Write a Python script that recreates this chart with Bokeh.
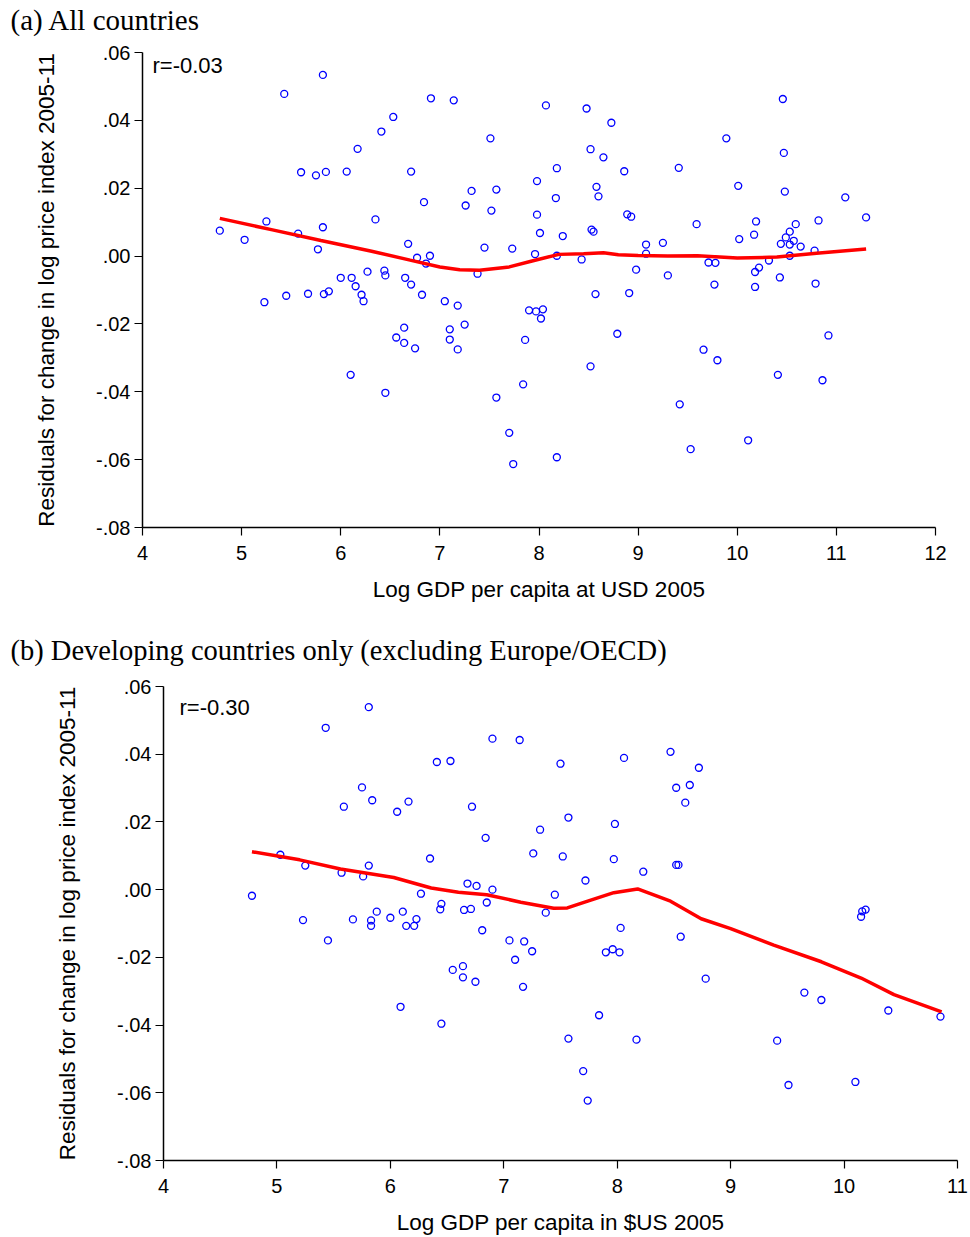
from bokeh.plotting import figure
from bokeh.layouts import column, row
from bokeh.models import FixedTicker, Label
from bokeh.embed import file_html
from bokeh.resources import INLINE

# ---------------- Panel (a): all countries ----------------
a_gdp = [4.78, 5.03, 5.25, 5.57, 5.82, 5.77, 6.35, 6.68, 5.82, 5.43, 6.53, 6.41, 6.17, 5.60,
         5.75, 5.85, 6.06, 6.71, 6.00, 6.11, 6.15, 6.27, 6.44, 6.45, 6.65, 6.71, 5.23, 5.45,
         5.67, 5.83, 5.88, 6.21, 6.23, 6.64, 6.56, 6.64, 6.10, 6.45, 6.77, 6.90, 6.86, 6.82,
         7.05, 7.18, 7.38, 7.25, 7.10, 6.75, 7.10, 7.18, 7.90, 7.97, 8.04, 8.02, 7.86, 7.84,
         7.57, 7.70, 7.74, 8.18, 8.43, 8.57, 8.79, 8.52, 8.91, 8.98, 9.30, 6.91, 7.14, 8.07,
         8.48, 8.73, 7.51, 8.52, 8.65, 8.18, 8.86, 7.98, 8.58, 7.32, 7.57, 6.84, 8.60, 8.17,
         7.26, 7.52, 7.98, 8.89, 8.93, 8.53, 8.55, 8.01, 8.24, 7.45, 7.73, 7.96, 8.18, 9.08,
         9.08, 9.25, 10.46, 9.89, 10.47, 9.41, 10.01, 10.48, 11.09, 11.30, 9.59, 10.19, 10.59,
         10.82, 10.53, 10.49, 10.57, 10.44, 10.53, 10.64, 10.17, 10.02, 10.78, 10.53, 10.32,
         9.71, 9.78, 10.22, 10.18, 9.77, 10.18, 10.43, 10.79, 10.92, 9.66, 9.80, 10.41, 10.86,
         9.42, 10.11, 9.53]
a_resid = [0.0075, 0.0048, 0.0102, 0.0066, 0.0085, 0.0020, 0.0108, 0.0036, 0.0534, 0.0478,
           0.0410, 0.0367, 0.0316, 0.0247, 0.0238, 0.0248, 0.0249, 0.0249, -0.0064, -0.0064,
           -0.0089, -0.0046, -0.0043, -0.0057, -0.0064, -0.0084, -0.0136, -0.0117, -0.0111,
           -0.0112, -0.0104, -0.0114, -0.0133, -0.0211, -0.0240, -0.0256, -0.0350, -0.0403,
           -0.0005, 0.0001, -0.0022, -0.0114, -0.0133, -0.0146, -0.0052, -0.0202, -0.0216,
           -0.0272, -0.0246, -0.0275, -0.0160, -0.0163, -0.0157, -0.0184, -0.0247, -0.0378,
           -0.0417, -0.0521, -0.0613, -0.0593, -0.0010, -0.0112, -0.0229, -0.0325, -0.0109,
           -0.0040, -0.0057, 0.0465, 0.0459, 0.0444, 0.0435, 0.0393, 0.0347, 0.0315, 0.0291,
           0.0259, 0.0250, 0.0221, 0.0204, 0.0192, 0.0196, 0.0159, 0.0176, 0.0171, 0.0149,
           0.0134, 0.0122, 0.0123, 0.0116, 0.0078, 0.0072, 0.0068, 0.0059, 0.0025, 0.0022,
           0.0006, 0.0001, 0.0034, 0.0007, 0.0039, 0.0463, 0.0347, 0.0304, 0.0260, 0.0207,
           0.0190, 0.0173, 0.0114, 0.0094, 0.0102, 0.0094, 0.0105, 0.0072, 0.0055, 0.0045,
           0.0036, 0.0034, 0.0028, 0.0063, 0.0050, 0.0016, 0.0001, -0.0013, -0.0019, -0.0020,
           -0.0034, -0.0047, -0.0084, -0.0091, -0.0063, -0.0081, -0.0234, -0.0276, -0.0307,
           -0.0350, -0.0366, -0.0437, -0.0543, -0.0569]
a_fit_x = [4.78, 5.3, 5.8, 6.3, 6.7, 7.0, 7.2, 7.4, 7.7, 7.95, 8.2, 8.45, 8.65, 8.8, 9.0,
           9.3, 9.6, 10.0, 10.4, 10.8, 11.3]
a_fit_y = [0.0111, 0.0078, 0.0046, 0.0015, -0.0012, -0.0032, -0.0040, -0.0042, -0.0032,
           -0.0013, 0.0005, 0.0007, 0.0010, 0.0004, 0.0002, 0.0000, 0.0001, -0.0006, -0.0003,
           0.0008, 0.0021]

# ---------------- Panel (b): developing countries ----------------
b_gdp = [5.81, 5.43, 5.75, 5.84, 5.59, 6.16, 6.06, 5.03, 5.25, 5.57, 5.76, 5.81, 6.35, 4.78,
         6.27, 5.23, 5.67, 5.83, 5.83, 5.88, 6.00, 6.11, 6.14, 6.21, 6.23, 5.45, 6.09, 6.90,
         7.14, 6.41, 6.53, 7.50, 8.06, 8.47, 8.52, 8.64, 8.60, 6.72, 7.57, 7.32, 7.98, 6.84,
         7.26, 7.52, 7.97, 8.52, 8.54, 8.23, 7.72, 6.68, 6.76, 6.90, 7.45, 6.85, 6.45, 6.44,
         6.65, 6.71, 7.37, 8.03, 6.81, 8.56, 7.05, 7.18, 7.25, 7.10, 7.90, 7.96, 8.02, 6.55,
         6.64, 6.64, 6.75, 7.17, 7.84, 6.45, 7.57, 8.17, 7.70, 7.74, 8.72, 10.19, 10.16, 10.15,
         8.78, 9.65, 9.80, 10.39, 10.85, 9.41, 9.51, 10.10]
b_resid = [0.0539, 0.0478, 0.0302, 0.0264, 0.0245, 0.0260, 0.0230, 0.0103, 0.0071, 0.0050,
           0.0039, 0.0071, 0.0092, -0.0018, -0.0012, -0.0090, -0.0088, -0.0091, -0.0107,
           -0.0065, -0.0083, -0.0065, -0.0107, -0.0107, -0.0087, -0.0150, -0.0346, 0.0446,
           0.0442, 0.0377, 0.0380, 0.0372, 0.0389, 0.0407, 0.0301, 0.0309, 0.0257, 0.0245,
           0.0213, 0.0177, 0.0194, 0.0153, 0.0107, 0.0098, 0.0090, 0.0073, 0.0073, 0.0053,
           0.0027, 0.0018, 0.0011, 0.0000, -0.0015, -0.0038, -0.0042, -0.0058, -0.0060,
           -0.0057, -0.0068, -0.0113, -0.0120, -0.0139, -0.0150, -0.0153, -0.0182, -0.0207,
           -0.0185, -0.0176, -0.0185, -0.0237, -0.0226, -0.0259, -0.0272, -0.0287, -0.0371,
           -0.0396, -0.0440, -0.0443, -0.0536, -0.0623, 0.0360, -0.0059, -0.0064, -0.0080,
           -0.0263, -0.0304, -0.0326, -0.0357, -0.0375, -0.0446, -0.0577, -0.0568]
b_fit_x = [4.78, 5.2, 5.56, 6.03, 6.36, 6.6, 6.85, 7.15, 7.44, 7.56, 7.74, 7.97, 8.18, 8.47,
           8.74, 9.0, 9.38, 9.8, 10.15, 10.44, 10.86]
b_fit_y = [0.0112, 0.0088, 0.0061, 0.0036, 0.0005, -0.0008, -0.0015, -0.0037, -0.0055,
           -0.0054, -0.0034, -0.0009, 0.0002, -0.0034, -0.0086, -0.0115, -0.0164, -0.0213,
           -0.0261, -0.0310, -0.0361]

y_ticks = [-0.08, -0.06, -0.04, -0.02, 0.0, 0.02, 0.04, 0.06]
y_tick_labels = ["-.08", "-.06", "-.04", "-.02", ".00", ".02", ".04", ".06"]

SANS = "Liberation Sans"
SERIF = "Liberation Serif"
W = 970


def title_strip(text, size, h, center_from_top):
    """A bare strip whose frame covers the whole canvas, holding one panel title."""
    t = figure(width=W, height=h, x_range=(0, W), y_range=(0, h),
               x_axis_type=None, y_axis_type=None,
               output_backend="svg", toolbar_location=None,
               min_border=0, min_border_left=0, min_border_right=0,
               min_border_top=0, min_border_bottom=0)
    t.outline_line_color = None
    t.xgrid.visible = False
    t.ygrid.visible = False
    t.add_layout(Label(x=10, y=h - center_from_top, text=text, text_font=SERIF,
                       text_font_size=size, text_color="black",
                       text_baseline="middle", text_align="left"))
    return t


def panel(xlabel, xs, ys, fx, fy, xr, r_text, r_dx, r_dy, h, left, right, top, bottom):
    p = figure(width=W, height=h, x_range=xr, y_range=(-0.08, 0.06),
               output_backend="svg", toolbar_location=None,
               min_border_left=left, min_border_right=right,
               min_border_top=top, min_border_bottom=bottom)
    p.outline_line_color = None
    p.xgrid.visible = False
    p.ygrid.visible = False

    frame_w = W - left - right
    frame_h = h - top - bottom
    xpp = (xr[1] - xr[0]) / frame_w      # data units per pixel
    ypp = 0.14 / frame_h

    p.scatter(xs, ys, marker="circle", size=7, fill_color=None,
              line_color="#0000FF", line_width=1.3)
    p.line(fx, fy, line_color="#FF0000", line_width=3.5)

    p.xaxis.ticker = FixedTicker(ticks=list(range(int(xr[0]), int(xr[1]) + 1)))
    p.yaxis.ticker = FixedTicker(ticks=y_ticks)
    p.yaxis.major_label_overrides = {t: l for t, l in zip(y_ticks, y_tick_labels)}
    for ax in (p.xaxis, p.yaxis):
        ax.axis_line_color = "black"
        ax.axis_line_width = 1.5
        ax.major_tick_line_color = "black"
        ax.major_tick_line_width = 1.2
        ax.major_tick_out = 8
        ax.major_tick_in = 0
        ax.minor_tick_out = 0
        ax.minor_tick_in = 0
        ax.major_label_text_font = SANS
        ax.major_label_text_font_size = "20px"
        ax.major_label_text_color = "black"
        ax.axis_label_text_font = SANS
        ax.axis_label_text_font_size = "22.5px"
        ax.axis_label_text_font_style = "normal"
        ax.axis_label_text_color = "black"
    p.xaxis.axis_label = xlabel
    p.yaxis.axis_label = "Residuals for change in log price index 2005-11"
    p.xaxis.major_label_standoff = 10
    p.xaxis.axis_label_standoff = 14
    p.yaxis.major_label_standoff = 4
    p.yaxis.axis_label_standoff = 34

    # correlation note inside the frame
    p.add_layout(Label(x=xr[0] + r_dx * xpp, y=0.06 - r_dy * ypp, text=r_text,
                       text_font=SANS, text_font_size="22px", text_color="black",
                       text_baseline="middle", text_align="left"))
    return p


ta = title_strip("(a) All countries", "29px", 40, 19)
pa = panel("Log GDP per capita at USD 2005",
           a_gdp, a_resid, a_fit_x, a_fit_y, (4, 12), "r=-0.03", 10, 13,
           580, 142, 35, 12, 93)
tb = title_strip("(b) Developing countries only (excluding Europe/OECD)", "28.5px", 50, 30)
pb = panel("Log GDP per capita in $US 2005",
           b_gdp, b_resid, b_fit_x, b_fit_y, (4, 11), "r=-0.30", 16, 21,
           567, 163, 13, 16, 75)

layout = column(row(ta), row(pa), row(tb), row(pb), spacing=0)
open("out.html", "w").write(file_html(layout, INLINE))
